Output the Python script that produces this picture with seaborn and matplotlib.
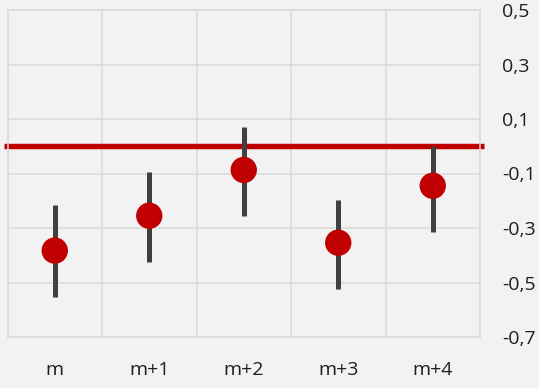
import matplotlib
matplotlib.use("Agg")
import matplotlib.pyplot as plt
import seaborn as sns
import numpy as np
import pandas as pd

# data
periods = ['m', 'm+1', 'm+2', 'm+3', 'm+4']
estimate = [-0.383, -0.255, -0.087, -0.354, -0.145]
lower = [-0.554, -0.424, -0.255, -0.524, -0.314]
upper = [-0.216, -0.094, 0.072, -0.197, 0.0]
y_ticks = [0.5, 0.3, 0.1, -0.1, -0.3, -0.5, -0.7]

df = pd.DataFrame({'period': periods, 'est': estimate, 'lo': lower, 'hi': upper})

sns.set_style('white')
plt.rcParams['font.family'] = ['Open Sans', 'DejaVu Sans']

bg = '#f2f2f2'
grid = '#dadada'
red = '#c00000'

fig, ax = plt.subplots(figsize=(5.39, 3.88), dpi=100)
fig.patch.set_facecolor(bg)
ax.set_facecolor(bg)
fig.subplots_adjust(left=7.5 / 539, right=480 / 539, top=1 - 10 / 388, bottom=1 - 337 / 388)

# zero line, slightly wider than the plot area
ax.axhline(0, xmin=-0.007, xmax=1.009, color=red, lw=3.9, clip_on=False,
           solid_capstyle='butt', zorder=2)

# confidence intervals
ax.vlines(df['period'], df['lo'], df['hi'], color='#404040', lw=3.6, zorder=3)

sns.scatterplot(data=df, x='period', y='est', color=red, s=360,
                edgecolor='none', zorder=4, ax=ax, legend=False)

ax.set_xlim(-0.5, len(periods) - 0.5)
ax.set_ylim(-0.7, 0.5)
ax.set_yticks(y_ticks)
ax.set_yticklabels([f'{v:.1f}'.replace('.', ',') for v in y_ticks])
ax.yaxis.tick_right()
ax.set_xticks(range(len(periods)))
ax.set_xticks(np.arange(-0.5, len(periods), 1), minor=True)
ax.grid(False)
ax.grid(axis='y', which='major', color=grid, lw=1.1)
ax.grid(axis='x', which='minor', color=grid, lw=1.1)
ax.set_axisbelow(True)
ax.tick_params(axis='both', which='both', length=0)
ax.tick_params(axis='y', pad=16, labelsize=14, labelcolor='#1f1f1f')
ax.tick_params(axis='x', pad=17, labelsize=14, labelcolor='#1f1f1f')
for lab in ax.get_yticklabels():
    lab.set_horizontalalignment('left')
for sp in ax.spines.values():
    sp.set_color(grid)
    sp.set_linewidth(1.1)
ax.set_xlabel('')
ax.set_ylabel('')

fig.savefig('out.png', dpi=100, facecolor=bg)
